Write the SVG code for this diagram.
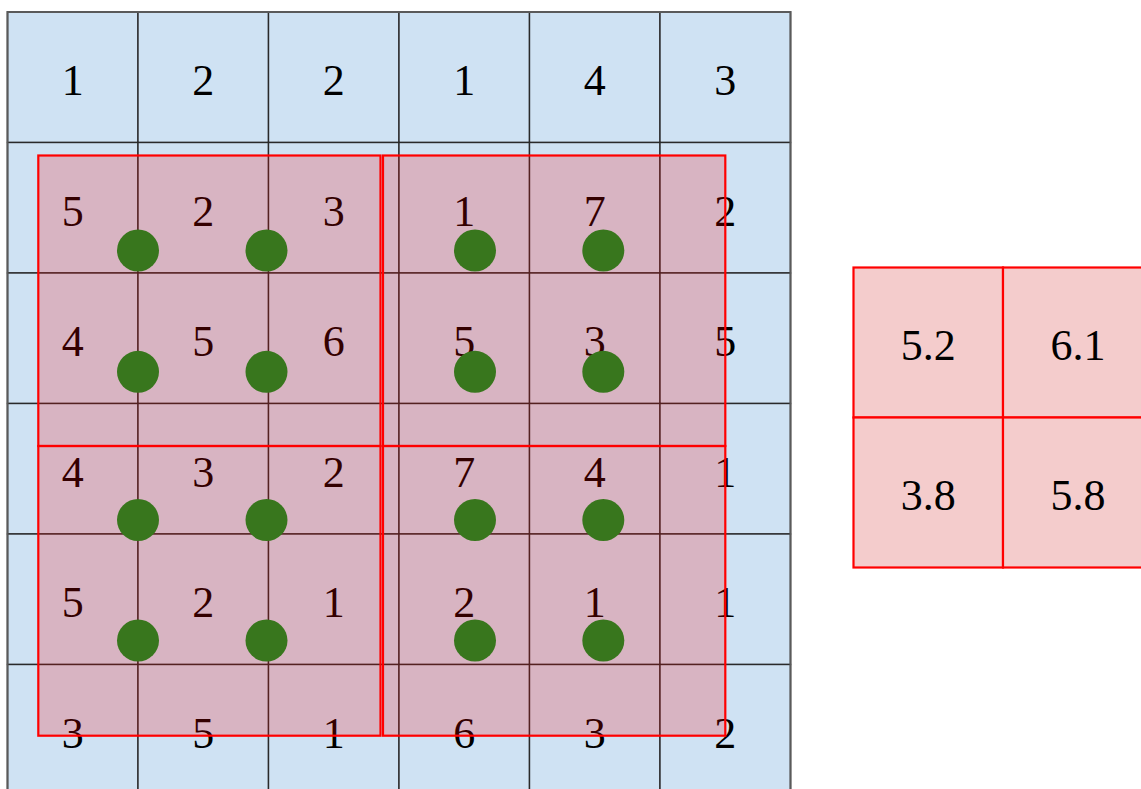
<svg xmlns="http://www.w3.org/2000/svg" width="1141" height="789" viewBox="0 0 1141 789">
<style>
.c rect{fill:#cfe2f3;stroke:#2a2a2a;stroke-width:1.4}
text{font-family:"Liberation Serif","Times New Roman",serif;font-size:44px;text-anchor:middle;fill:#000}
.pool{fill:rgba(255,0,0,0.2);stroke:#ff0000;stroke-width:2.2}
.dot{fill:#38761d}
.o rect{fill:#f4cccc;stroke:#ff0000;stroke-width:2.2}
</style>
<rect width="1141" height="789" fill="#fff"/>
<g id="input-grid">
<g id="r1c1" class="c"><rect x="7.5" y="12" width="130.5" height="130.5"/><text x="72.75" y="95">1</text></g>
<g id="r1c2" class="c"><rect x="138" y="12" width="130.5" height="130.5"/><text x="203.25" y="95">2</text></g>
<g id="r1c3" class="c"><rect x="268.5" y="12" width="130.5" height="130.5"/><text x="333.75" y="95">2</text></g>
<g id="r1c4" class="c"><rect x="399" y="12" width="130.5" height="130.5"/><text x="464.25" y="95">1</text></g>
<g id="r1c5" class="c"><rect x="529.5" y="12" width="130.5" height="130.5"/><text x="594.75" y="95">4</text></g>
<g id="r1c6" class="c"><rect x="660" y="12" width="130.5" height="130.5"/><text x="725.25" y="95">3</text></g>

<g id="r2c1" class="c"><rect x="7.5" y="142.5" width="130.5" height="130.5"/><text x="72.75" y="225.5">5</text></g>
<g id="r2c2" class="c"><rect x="138" y="142.5" width="130.5" height="130.5"/><text x="203.25" y="225.5">2</text></g>
<g id="r2c3" class="c"><rect x="268.5" y="142.5" width="130.5" height="130.5"/><text x="333.75" y="225.5">3</text></g>
<g id="r2c4" class="c"><rect x="399" y="142.5" width="130.5" height="130.5"/><text x="464.25" y="225.5">1</text></g>
<g id="r2c5" class="c"><rect x="529.5" y="142.5" width="130.5" height="130.5"/><text x="594.75" y="225.5">7</text></g>
<g id="r2c6" class="c"><rect x="660" y="142.5" width="130.5" height="130.5"/><text x="725.25" y="225.5">2</text></g>

<g id="r3c1" class="c"><rect x="7.5" y="273" width="130.5" height="130.5"/><text x="72.75" y="356">4</text></g>
<g id="r3c2" class="c"><rect x="138" y="273" width="130.5" height="130.5"/><text x="203.25" y="356">5</text></g>
<g id="r3c3" class="c"><rect x="268.5" y="273" width="130.5" height="130.5"/><text x="333.75" y="356">6</text></g>
<g id="r3c4" class="c"><rect x="399" y="273" width="130.5" height="130.5"/><text x="464.25" y="356">5</text></g>
<g id="r3c5" class="c"><rect x="529.5" y="273" width="130.5" height="130.5"/><text x="594.75" y="356">3</text></g>
<g id="r3c6" class="c"><rect x="660" y="273" width="130.5" height="130.5"/><text x="725.25" y="356">5</text></g>

<g id="r4c1" class="c"><rect x="7.5" y="403.5" width="130.5" height="130.5"/><text x="72.75" y="486.5">4</text></g>
<g id="r4c2" class="c"><rect x="138" y="403.5" width="130.5" height="130.5"/><text x="203.25" y="486.5">3</text></g>
<g id="r4c3" class="c"><rect x="268.5" y="403.5" width="130.5" height="130.5"/><text x="333.75" y="486.5">2</text></g>
<g id="r4c4" class="c"><rect x="399" y="403.5" width="130.5" height="130.5"/><text x="464.25" y="486.5">7</text></g>
<g id="r4c5" class="c"><rect x="529.5" y="403.5" width="130.5" height="130.5"/><text x="594.75" y="486.5">4</text></g>
<g id="r4c6" class="c"><rect x="660" y="403.5" width="130.5" height="130.5"/><text x="725.25" y="486.5">1</text></g>

<g id="r5c1" class="c"><rect x="7.5" y="534" width="130.5" height="130.5"/><text x="72.75" y="617">5</text></g>
<g id="r5c2" class="c"><rect x="138" y="534" width="130.5" height="130.5"/><text x="203.25" y="617">2</text></g>
<g id="r5c3" class="c"><rect x="268.5" y="534" width="130.5" height="130.5"/><text x="333.75" y="617">1</text></g>
<g id="r5c4" class="c"><rect x="399" y="534" width="130.5" height="130.5"/><text x="464.25" y="617">2</text></g>
<g id="r5c5" class="c"><rect x="529.5" y="534" width="130.5" height="130.5"/><text x="594.75" y="617">1</text></g>
<g id="r5c6" class="c"><rect x="660" y="534" width="130.5" height="130.5"/><text x="725.25" y="617">1</text></g>

<g id="r6c1" class="c"><rect x="7.5" y="664.5" width="130.5" height="130.5"/><text x="72.75" y="747.5">3</text></g>
<g id="r6c2" class="c"><rect x="138" y="664.5" width="130.5" height="130.5"/><text x="203.25" y="747.5">5</text></g>
<g id="r6c3" class="c"><rect x="268.5" y="664.5" width="130.5" height="130.5"/><text x="333.75" y="747.5">1</text></g>
<g id="r6c4" class="c"><rect x="399" y="664.5" width="130.5" height="130.5"/><text x="464.25" y="747.5">6</text></g>
<g id="r6c5" class="c"><rect x="529.5" y="664.5" width="130.5" height="130.5"/><text x="594.75" y="747.5">3</text></g>
<g id="r6c6" class="c"><rect x="660" y="664.5" width="130.5" height="130.5"/><text x="725.25" y="747.5">2</text></g>
<rect x="7.5" y="12" width="783" height="783" fill="none" stroke="#5a5a5a" stroke-width="2"/>
</g>
<g id="pool-windows">
<rect id="win-tl" class="pool" x="38.3" y="155.5" width="342.2" height="290.5"/>
<rect id="win-tr" class="pool" x="383" y="155.5" width="342.3" height="290.5"/>
<rect id="win-bl" class="pool" x="38.3" y="446" width="342.2" height="289.7"/>
<rect id="win-br" class="pool" x="383" y="446" width="342.3" height="289.7"/>
</g>
<g id="samples">
<circle class="dot" cx="138" cy="250.5" r="21"/><circle class="dot" cx="266.5" cy="250.5" r="21"/><circle class="dot" cx="475" cy="250.5" r="21"/><circle class="dot" cx="603.3" cy="250.5" r="21"/>
<circle class="dot" cx="138" cy="371.8" r="21"/><circle class="dot" cx="266.5" cy="371.8" r="21"/><circle class="dot" cx="475" cy="371.8" r="21"/><circle class="dot" cx="603.3" cy="371.8" r="21"/>
<circle class="dot" cx="138" cy="520" r="21"/><circle class="dot" cx="266.5" cy="520" r="21"/><circle class="dot" cx="475" cy="520" r="21"/><circle class="dot" cx="603.3" cy="520" r="21"/>
<circle class="dot" cx="138" cy="640.5" r="21"/><circle class="dot" cx="266.5" cy="640.5" r="21"/><circle class="dot" cx="475" cy="640.5" r="21"/><circle class="dot" cx="603.3" cy="640.5" r="21"/>
</g>
<g id="output-grid">
<g id="o11" class="o"><rect x="853.5" y="267.5" width="149.5" height="150"/><text x="928.3" y="360">5.2</text></g>
<g id="o12" class="o"><rect x="1003" y="267.5" width="150" height="150"/><text x="1078" y="360">6.1</text></g>
<g id="o21" class="o"><rect x="853.5" y="417.5" width="149.5" height="150"/><text x="928.3" y="510">3.8</text></g>
<g id="o22" class="o"><rect x="1003" y="417.5" width="150" height="150"/><text x="1078" y="510">5.8</text></g>
</g>
<g id="connectors"/>
</svg>
